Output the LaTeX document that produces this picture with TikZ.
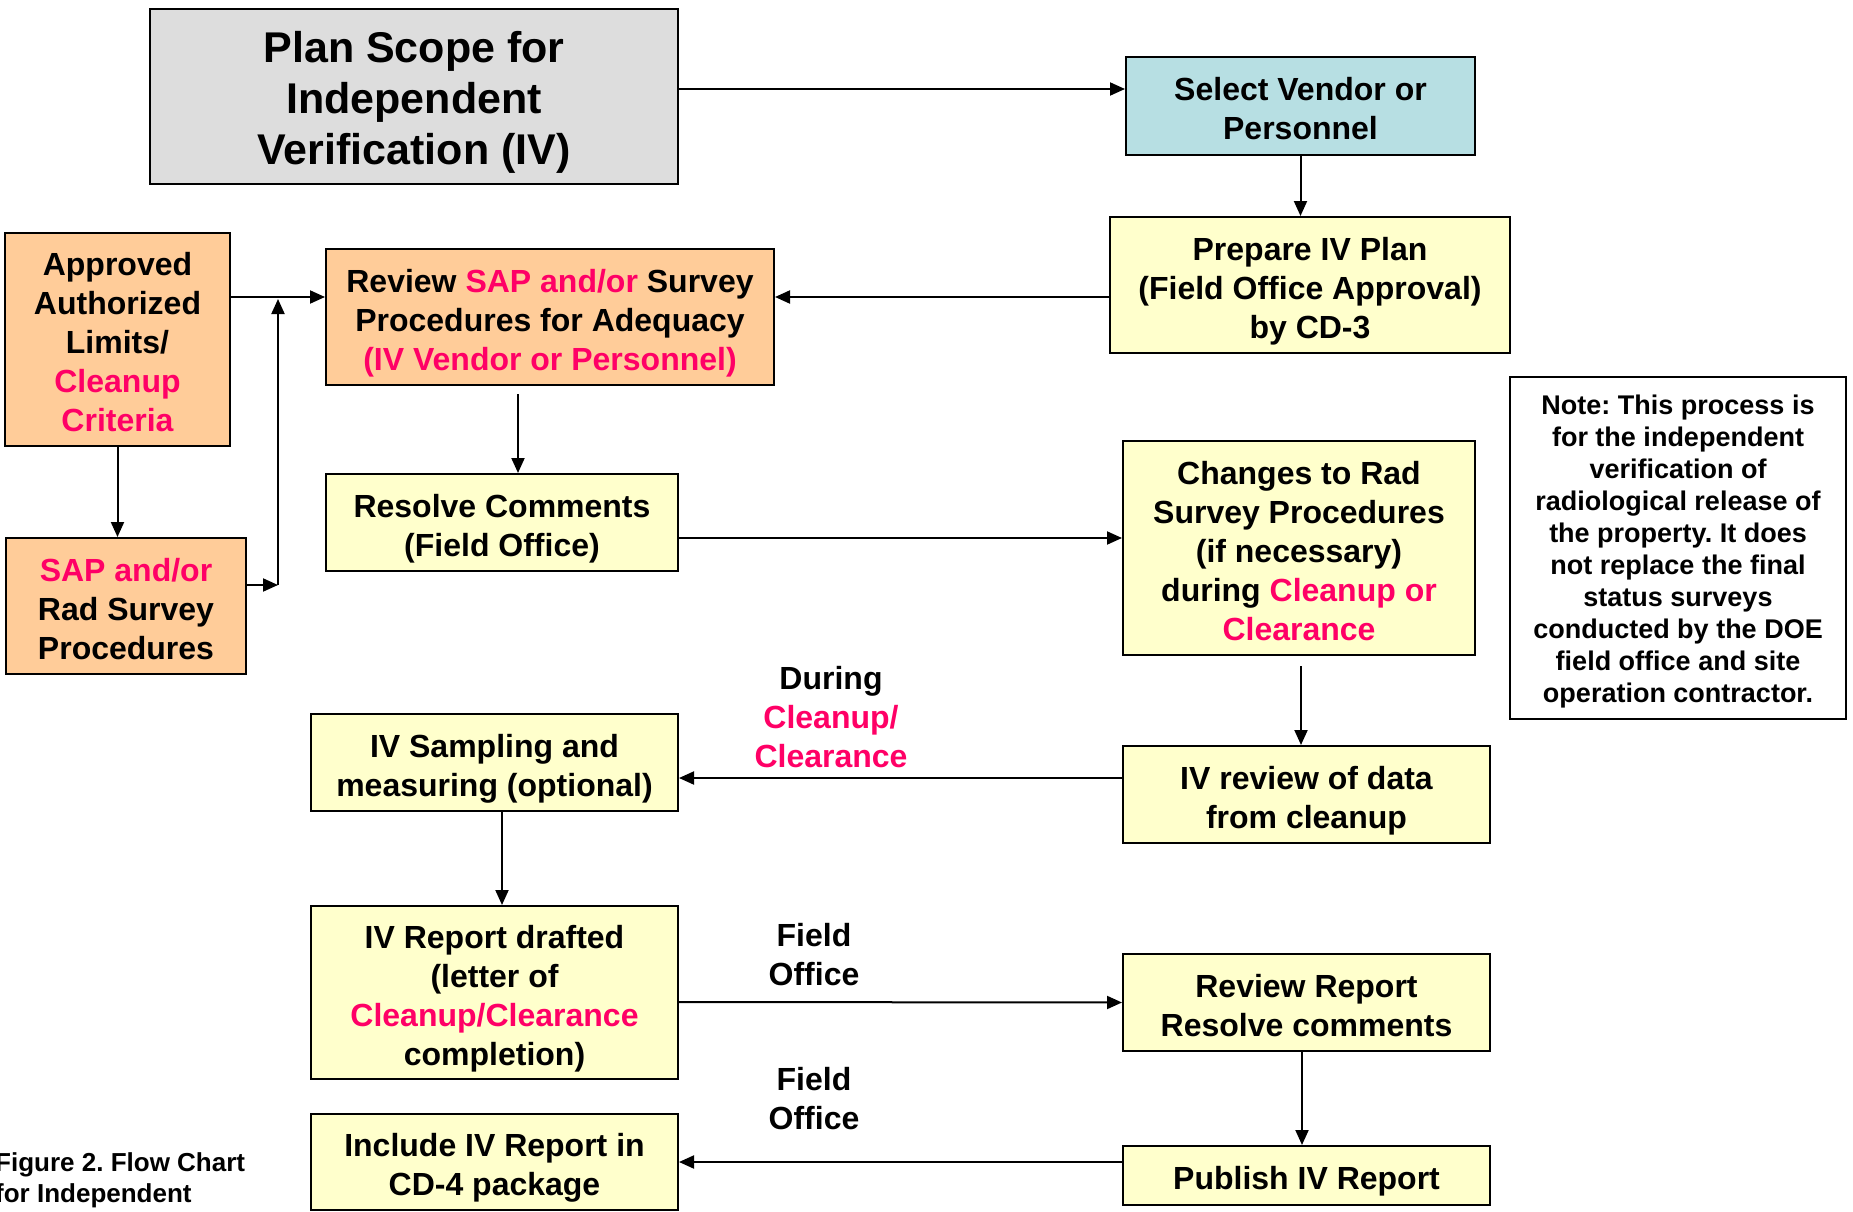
\documentclass[tikz,border=0pt]{standalone}
\usepackage{fontspec}
\setmainfont{Liberation Sans}
\usetikzlibrary{arrows.meta, positioning}
\definecolor{plangray}{HTML}{DDDDDD}
\definecolor{vendorblue}{HTML}{B7DFE3}
\definecolor{peach}{HTML}{FFCC99}
\definecolor{paleyellow}{HTML}{FFFFCC}
\definecolor{hot}{HTML}{FF0066}
\newcommand{\hl}[1]{\textcolor{hot}{#1}}
% struts that set the first line's height and the last line's depth
\newcommand{\ts}[1][1.09em]{\rule{0pt}{#1}}
\newcommand{\bs}{\rule[-0.212em]{0pt}{0.212em}}
\frenchspacing

\begin{document}
\begin{tikzpicture}[x=1pt, y=-1pt, >={Triangle[length=15pt,width=13pt]},
  every node/.style={font=\fontsize{32}{39}\selectfont\bfseries, align=center, inner sep=0pt},
  box/.style={draw, line width=2pt, fill=paleyellow},
  arr/.style={->, line width=2pt}]

  \useasboundingbox (0,0) rectangle (1853,1212);
  \fill[white] (0,0) rectangle (1853,1212);

  % top row
  \node[box, fill=plangray, minimum width=528, minimum height=175,
        font=\fontsize{43}{51}\selectfont\bfseries] (plan) at (414,96.5)
        {\ts[1.01em]Plan Scope for\\Independent\\Verification (IV)\bs};
  \node[box, fill=vendorblue, minimum width=349, minimum height=98] (vendor) at (1300.5,106)
        {\ts Select Vendor or\\Personnel\bs};
  \node[box, minimum width=400, minimum height=136] (prepare) at (1310,285)
        {\ts Prepare IV Plan\\(Field Office Approval)\\by CD-3\bs};

  % left column (criteria and procedures)
  \node[box, fill=peach, minimum width=225, minimum height=213] (approved) at (117.5,339.5)
        {\ts Approved\\Authorized\\Limits/\\\hl{Cleanup}\\\hl{Criteria}\bs};
  \node[box, fill=peach, minimum width=240, minimum height=136] (saprad) at (126,606)
        {\ts\hl{SAP and/or}\\Rad Survey\\Procedures\bs};
  \node[box, fill=peach, minimum width=448, minimum height=136] (review) at (550,317)
        {\ts Review \hl{SAP and/or} Survey\\Procedures for Adequacy\\\hl{(IV Vendor or Personnel)}\bs};

  % middle rows
  \node[box, minimum width=352, minimum height=97] (resolve) at (502,522.5)
        {\ts Resolve Comments\\(Field Office)\bs};
  \node[box, minimum width=352, minimum height=214] (changes) at (1299,548)
        {\ts Changes to Rad\\Survey Procedures\\(if necessary)\\during \hl{Cleanup or}\\\hl{Clearance}\bs};
  \node[draw, line width=1.5pt, minimum width=336, minimum height=342,
        font=\fontsize{27}{32}\selectfont\bfseries] (note) at (1678,548)
        {\ts[1.0em]Note: This process is\\for the independent\\verification of\\radiological release of\\the property. It does\\not replace the final\\status surveys\\conducted by the DOE\\field office and site\\operation contractor.\bs};

  \node[box, minimum width=367, minimum height=97] (sampling) at (494.5,762.5)
        {\ts IV Sampling and\\measuring (optional)\bs};
  \node[box, minimum width=367, minimum height=97] (ivreview) at (1306.5,794.5)
        {\ts IV review of data\\from cleanup\bs};

  % bottom rows
  \node[box, minimum width=367, minimum height=173] (report) at (494.5,992.5)
        {\ts IV Report drafted\\(letter of\\\hl{Cleanup/Clearance}\\completion)\bs};
  \node[box, minimum width=367, minimum height=97] (revrep) at (1306.5,1002.5)
        {\ts Review Report\\Resolve comments\bs};
  \node[box, minimum width=367, minimum height=96] (include) at (494.5,1162)
        {\ts Include IV Report in\\CD-4 package\bs};
  \node[box, minimum width=367, minimum height=59] (publish) at (1306.5,1175.5)
        {\ts Publish IV Report\bs};

  % arrow labels
  \node (during) at (831,717.5) {During\\\hl{Cleanup/}\\\hl{Clearance}};
  \node (fieldA) at (814,954.5) {Field\\Office};
  \node (fieldB) at (814,1099) {Field\\Office};

  % caption, cut at the left edge
  \node[anchor=north west, align=left, font=\fontsize{26}{31}\selectfont\bfseries] (caption)
        at (-5,1152) {Figure 2. Flow Chart\\for Independent};

  % connectors
  \coordinate (join) at (278,585);
  \coordinate (jtop) at (278,299);
  \draw[arr] ([yshift=7.5pt]plan.east) -- ([yshift=17pt]vendor.west);
  \draw[arr] (vendor.south) -- (vendor.south |- prepare.north);
  \draw[arr] ([yshift=-12pt]prepare.west) -- ([yshift=20pt]review.east);
  \draw[arr] ([yshift=42.5pt]approved.east) -- ([yshift=20pt]review.west);
  \draw[arr] (approved.south) -- (approved.south |- saprad.north);
  \draw[arr] ([yshift=21pt]saprad.east) -- (join);
  \draw[arr] (join) -- (jtop);
  \draw[arr] ([xshift=-32pt,yshift=-8pt]review.south) -- ([xshift=16pt]resolve.north);
  \draw[arr] ([yshift=-15.5pt]resolve.east) -- ([yshift=10pt]changes.west);
  \draw[arr] ([xshift=2pt,yshift=-10pt]changes.south) -- ([xshift=-5.5pt]ivreview.north);
  \draw[arr] ([yshift=16.5pt]ivreview.west) -- ([yshift=-15.5pt]sampling.east);
  \draw[arr] ([xshift=7.5pt]sampling.south) -- ([xshift=7.5pt]report.north);
  \draw[arr] ([yshift=-9.5pt]report.east) -- (revrep.west);
  \draw[arr] ([xshift=-4.5pt]revrep.south) -- ([xshift=-4.5pt]publish.north);
  \draw[arr] ([yshift=13.5pt]publish.west) -- (include.east);
\end{tikzpicture}
\end{document}
